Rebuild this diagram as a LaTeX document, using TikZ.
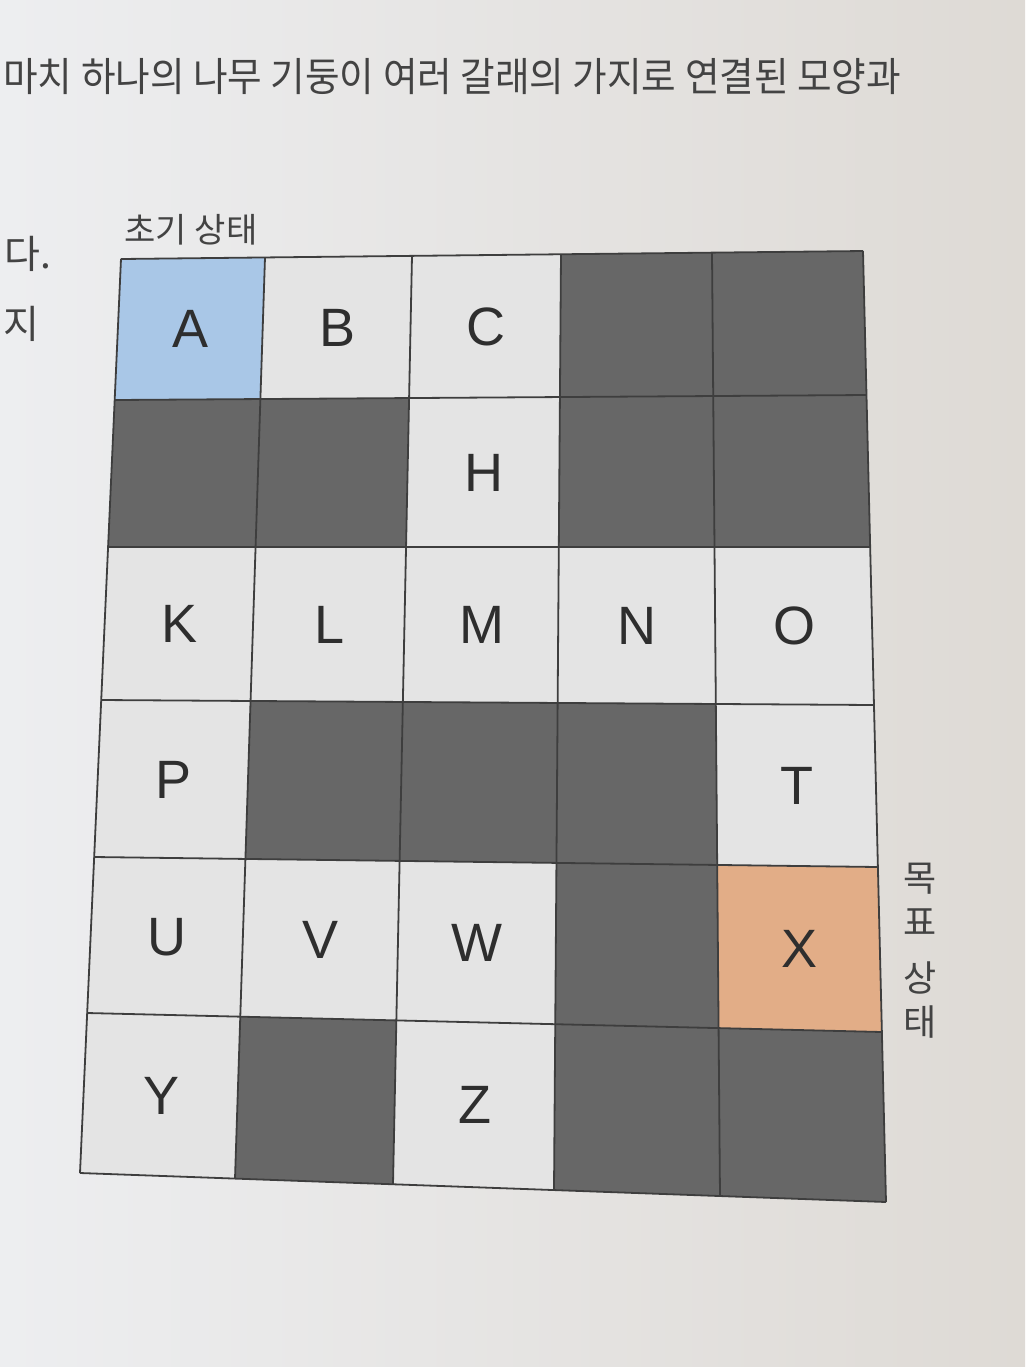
\documentclass[tikz,border=0pt]{standalone}
\usepackage{fontspec}
\setmainfont{Liberation Sans}
\newfontfamily\krfont{Noto Sans CJK KR}
\usetikzlibrary{calc}
\definecolor{paperL}{HTML}{EDEEF0}
\definecolor{paperR}{HTML}{DEDAD5}
\definecolor{lightcell}{HTML}{E4E4E4}
\definecolor{darkcell}{HTML}{676767}
\definecolor{startcell}{HTML}{A9C7E7}
\definecolor{goalcell}{HTML}{E2AD87}
\definecolor{ink}{HTML}{2E2E2E}
\definecolor{gridline}{HTML}{3E3E3E}
\tikzset{
  L/.style={fill=lightcell},
  D/.style={fill=darkcell},
  B/.style={fill=startcell},
  O/.style={fill=goalcell},
  letter/.style={text=ink, font=\fontsize{27}{30}\selectfont, inner sep=0pt},
  krtext/.style={text=ink!90, font=\krfont\fontsize{19.5}{22}\selectfont, inner sep=0pt},
  gridstroke/.style={draw=gridline, line width=0.9pt}
}
\begin{document}
\begin{tikzpicture}[x=0.5pt,y=-0.5pt]
\useasboundingbox (0,0) rectangle (1025,1367);
\shade[left color=paperL, right color=paperR] (0,0) rectangle (1025,1367);
% grid points (perspective of the photo)
\def\ct{{121,265,412,561,712,863}}
\def\cb{{80,235,393,554,720,886}}
\def\rl{{259,400,547,700,857,1013,1173}}
\def\rr{{251,395,547,705,867,1032,1202}}
\foreach \i in {0,...,5}{
  \foreach \j in {0,...,6}{
    \pgfmathsetmacro\cti{\ct[\i]}
    \pgfmathsetmacro\cbi{\cb[\i]}
    \pgfmathsetmacro\rlj{\rl[\j]}
    \pgfmathsetmacro\rrj{\rr[\j]}
    \pgfmathsetmacro\vv{(\rlj-259)/914}
    \pgfmathsetmacro\uu{(\cti-121)/742}
    \pgfmathsetmacro\px{\cti+(\cbi-\cti)*\vv}
    \pgfmathsetmacro\py{\rlj+(\rrj-\rlj)*\uu}
    \coordinate (p\i-\j) at (\px,\py);
  }
}
% cells
\foreach \i/\j/\t [evaluate=\i as \ii using int(\i+1), evaluate=\j as \jj using int(\j+1)] in {
  0/0/B,1/0/L,2/0/L,3/0/D,4/0/D,
  0/1/D,1/1/D,2/1/L,3/1/D,4/1/D,
  0/2/L,1/2/L,2/2/L,3/2/L,4/2/L,
  0/3/L,1/3/D,2/3/D,3/3/D,4/3/L,
  0/4/L,1/4/L,2/4/L,3/4/D,4/4/O,
  0/5/L,1/5/D,2/5/L,3/5/D,4/5/D}{
  \fill[\t] (p\i-\j) -- (p\ii-\j) -- (p\ii-\jj) -- (p\i-\jj) -- cycle;
}
% grid lines
\foreach \i in {0,...,5}{ \draw[gridstroke] (p\i-0) -- (p\i-6); }
\foreach \j in {0,...,6}{ \draw[gridstroke] (p0-\j) -- (p5-\j); }
% letters
\foreach \i/\j/\l [evaluate=\i as \ii using int(\i+1), evaluate=\j as \jj using int(\j+1)] in {
  0/0/A,1/0/B,2/0/C,2/1/H,
  0/2/K,1/2/L,2/2/M,3/2/N,4/2/O,
  0/3/P,4/3/T,
  0/4/U,1/4/V,2/4/W,4/4/X,
  0/5/Y,2/5/Z}{
  \node[letter] (cell\l) at ($(p\i-\j)!0.5!(p\ii-\jj)$) {\l};
}
% page texts
\node[krtext, font=\krfont\fontsize{20}{22}\selectfont, anchor=base west] (line1) at (3,91) {\scalebox{0.94}[1]{마치 하나의 나무 기둥이 여러 갈래의 가지로 연결된 모양과}};
\node[krtext, anchor=base west] (da) at (4,268) {다.};
\node[krtext, anchor=base west] (ji) at (3,338) {지};
\node[krtext, font=\krfont\fontsize{17}{20}\selectfont] (start) at (191,230) {초기 상태};
\node[krtext, font=\krfont\fontsize{18}{22}\selectfont, align=center] (goal) at (920,951) {목\\표\\[6pt]상\\태};
\end{tikzpicture}
\end{document}
